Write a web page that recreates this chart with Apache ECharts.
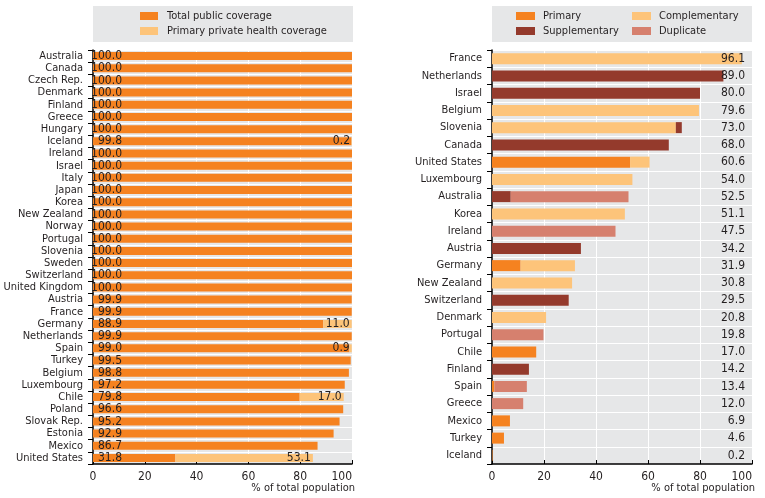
<!DOCTYPE html>
<html>
<head>
<meta charset="utf-8">
<script src="https://cdn.jsdelivr.net/npm/echarts@6/dist/echarts.min.js"></script>
<style>
html,body{margin:0;padding:0;background:#fff;}
#chart{width:765px;height:498px;}
</style>
</head>
<body>
<div id="chart"></div>
<script>
// ---- Data ----
const leftCategories = ["Australia","Canada","Czech Rep.","Denmark","Finland","Greece","Hungary","Iceland","Ireland","Israel","Italy","Japan","Korea","New Zealand","Norway","Portugal","Slovenia","Sweden","Switzerland","United Kingdom","Austria","France","Germany","Netherlands","Spain","Turkey","Belgium","Luxembourg","Chile","Poland","Slovak Rep.","Estonia","Mexico","United States"];
const publicCoverage = [100,100,100,100,100,100,100,99.8,100,100,100,100,100,100,100,100,100,100,100,100,99.9,99.9,88.9,99.9,99.0,99.5,98.8,97.2,79.8,96.6,95.2,92.9,86.7,31.8];
const privatePrimaryCoverage = [0,0,0,0,0,0,0,0.2,0,0,0,0,0,0,0,0,0,0,0,0,0,0,11.0,0,0.9,0,0,0,17.0,0,0,0,0,53.1];

const rightCategories = ["France","Netherlands","Israel","Belgium","Slovenia","Canada","United States","Luxembourg","Australia","Korea","Ireland","Austria","Germany","New Zealand","Switzerland","Denmark","Portugal","Chile","Finland","Spain","Greece","Mexico","Turkey","Iceland"];
const primary       = [0,0,0,0,0,0,53.1,0,0,0,0,0,11.0,0,0,0,0,17.0,0,0.9,0,6.9,4.6,0.2];
const complementary = [96.1,0,0,79.6,70.7,0,7.5,54.0,0,51.1,0,0,20.9,30.8,0,20.8,0,0,0,0,0,0,0,0];
const supplementary = [0,89.0,80.0,0,2.3,68.0,0,0,7.2,0,0,34.2,0,0,29.5,0,0,0,14.2,0,0,0,0,0];
const duplicate     = [0,0,0,0,0,0,0,0,45.3,0,47.5,0,0,0,0,0,19.8,0,0,12.5,12.0,0,0,0];

const totals = rightCategories.map((c,i)=>(Math.round((primary[i]+complementary[i]+supplementary[i]+duplicate[i])*10)/10).toFixed(1));

// ---- Styles ----
const FONT = "'DejaVu Sans Condensed','Liberation Sans',sans-serif";
const FS = 11;
const TXT = '#231f20';
const BG = '#e6e7e8';
const C_PRIMARY = '#f58220';
const C_COMPL = '#fdc47a';
const C_SUPP = '#943a2c';
const C_DUP = '#d6806e';

function valueAxis(gridIndex){
  return {
    type:'value', gridIndex, min:0, max:100, interval:20,
    axisLine:{show:true, lineStyle:{color:'#000', width:1.5}},
    axisTick:{show:true, inside:true, length:4, lineStyle:{color:'#000', width:1}},
    axisLabel:{color:TXT, fontFamily:FONT, fontSize:12, margin:7, alignMaxLabel:'right'},
    splitLine:{show:true, lineStyle:{color:'#fff', width:1}}
  };
}
function catAxis(gridIndex, data){
  return {
    type:'category', gridIndex, data, inverse:true,
    axisLine:{show:true, lineStyle:{color:'#000', width:1.5}},
    axisTick:{show:true, length:5, lineStyle:{color:'#000', width:1}},
    axisLabel:{color:TXT, fontFamily:FONT, fontSize:FS, margin:10, interval:0},
    splitLine:{show:true, interval:0, lineStyle:{color:'#fff', width:1}}
  };
}
const legendBase = {orient:'vertical', top:9, padding:0, itemWidth:18, itemHeight:8, itemGap:1, icon:'rect'};

const chart = echarts.init(document.getElementById('chart'), null, {renderer:'canvas'});
chart.setOption({
  animation:false,
  textStyle:{fontFamily:FONT},
  graphic:[
    {type:'rect', left:93, top:6, shape:{width:260, height:36}, style:{fill:BG}, z:0},
    {type:'rect', left:492, top:6, shape:{width:260, height:36}, style:{fill:BG}, z:0},
    {type:'text', right:765-355, top:483, style:{text:'% of total population', fill:TXT, font:FS+"px "+FONT}},
    {type:'text', right:765-755, top:483, style:{text:'% of total population', fill:TXT, font:FS+"px "+FONT}}
  ],
  legend:[
    Object.assign({}, legendBase, {data:['Total public coverage','Primary private health coverage'], left:140,
     textStyle:{color:TXT, fontFamily:FONT, fontSize:FS, lineHeight:14, padding:[0,0,0,4]}}),
    Object.assign({}, legendBase, {data:['Primary','Supplementary'], left:516, itemWidth:19,
     textStyle:{color:TXT, fontFamily:FONT, fontSize:FS, lineHeight:14, padding:[0,0,0,3]}}),
    Object.assign({}, legendBase, {data:['Complementary','Duplicate'], left:632, itemWidth:19,
     textStyle:{color:TXT, fontFamily:FONT, fontSize:FS, lineHeight:14, padding:[0,0,0,3]}})
  ],
  grid:[
    {left:93, right:765-352, top:50, bottom:34, show:true, backgroundColor:BG, borderWidth:0, outerBoundsMode:'none', containLabel:false},
    {left:492, right:765-752, top:50, bottom:34, show:true, backgroundColor:BG, borderWidth:0, outerBoundsMode:'none', containLabel:false}
  ],
  xAxis:[valueAxis(0), valueAxis(1)],
  yAxis:[
    catAxis(0, leftCategories),
    catAxis(1, rightCategories),
    {type:'category', gridIndex:1, data:totals, inverse:true, position:'right', z:10,
     axisLine:{show:false}, axisTick:{show:false}, splitLine:{show:false},
     axisLabel:{inside:true, margin:7, interval:0, color:TXT, fontFamily:FONT, fontSize:12}}
  ],
  series:[
    {name:'Total public coverage', type:'bar', xAxisIndex:0, yAxisIndex:0, stack:'L', data:publicCoverage,
     barWidth:8, itemStyle:{color:C_PRIMARY},
     label:{show:true, position:[29,'50%'], align:'right', verticalAlign:'middle', color:TXT, fontFamily:FONT, fontSize:12,
            formatter:p=>p.value.toFixed(1)}},
    {name:'Primary private health coverage', type:'bar', xAxisIndex:0, yAxisIndex:0, stack:'L', data:privatePrimaryCoverage,
     barWidth:8, itemStyle:{color:C_COMPL},
     label:{show:true, position:'insideRight', distance:2, color:TXT, fontFamily:FONT, fontSize:12,
            formatter:p=>p.value>0?p.value.toFixed(1):''}},
    {name:'Primary', type:'bar', xAxisIndex:1, yAxisIndex:1, stack:'R', data:primary, barWidth:11, itemStyle:{color:C_PRIMARY}},
    {name:'Complementary', type:'bar', xAxisIndex:1, yAxisIndex:1, stack:'R', data:complementary, barWidth:11, itemStyle:{color:C_COMPL}},
    {name:'Supplementary', type:'bar', xAxisIndex:1, yAxisIndex:1, stack:'R', data:supplementary, barWidth:11, itemStyle:{color:C_SUPP}},
    {name:'Duplicate', type:'bar', xAxisIndex:1, yAxisIndex:1, stack:'R', data:duplicate, barWidth:11, itemStyle:{color:C_DUP}}
  ]
});
</script>
</body>
</html>
